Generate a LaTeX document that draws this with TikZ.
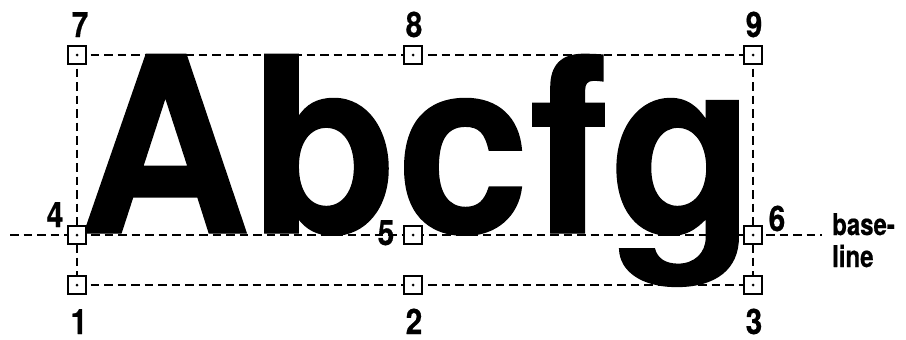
\documentclass[tikz,border=0pt]{standalone}
\usepackage{fontspec}
\newfontfamily\bigfont[FakeStretch=0.975,FakeBold=0.6]{TeX Gyre Heros}
\newfontfamily\labfont[FakeStretch=0.85,FakeBold=0.5]{TeX Gyre Heros}
\newfontfamily\wordfont[FakeStretch=0.8,FakeBold=0.5]{TeX Gyre Heros}
\begin{document}
\begin{tikzpicture}[x=1pt,y=-1pt,
  guide/.style={line width=1.7pt,dash pattern=on 8.5pt off 5pt},
  refpt/.style={draw,fill=white,line width=1.8pt,minimum size=17.5pt,inner sep=0pt},
  numlab/.style={inner sep=0pt,anchor=base,font=\labfont\bfseries\fontsize{35}{35}\selectfont}]
\useasboundingbox (0,0) rectangle (906,340);
% coordinates
\coordinate (p7) at (77,55);
\coordinate (p8) at (413,55);
\coordinate (p9) at (753,55);
\coordinate (p4) at (77,235);
\coordinate (p5) at (413,235);
\coordinate (p6) at (753,235);
\coordinate (p1) at (77,285);
\coordinate (p2) at (413,285);
\coordinate (p3) at (753,285);
\coordinate (bl0) at (10,235);
\coordinate (bl1) at (822,235);
% text
\node[inner sep=0pt,anchor=base west,font=\bigfont\bfseries\fontsize{245}{245}\selectfont] (word) at (78,233) {Abcfg};
% guides
\draw[guide] (p7) -- (p9);
\draw[guide] (p1) -- (p3);
\draw[guide] (bl0) -- (bl1);
\draw[guide] (p7) -- (p1);
\draw[guide] (p9) -- (p3);
% boxes
\foreach \p in {1,...,9} {\node[refpt] (b\p) at (p\p) {}; \fill (b\p.center) circle (1.5pt);}
% labels
\node[numlab] (l7) at (80,37) {7};
\node[numlab] (l8) at (414,37) {8};
\node[numlab] (l9) at (754,37) {9};
\node[numlab] (l4) at (55,227) {4};
\node[numlab] (l5) at (386,245) {5};
\node[numlab] (l6) at (777,231) {6};
\node[numlab] (l1) at (79,334) {1};
\node[numlab] (l2) at (414,334) {2};
\node[numlab] (l3) at (754,334) {3};
\node[inner sep=0pt,anchor=base west,font=\wordfont\bfseries\fontsize{30}{31}\selectfont] (bl) at (832,235) {base-};
\node[inner sep=0pt,anchor=base west,font=\wordfont\bfseries\fontsize{30}{31}\selectfont] (bl2) at (832,267) {line};
\end{tikzpicture}
\end{document}
